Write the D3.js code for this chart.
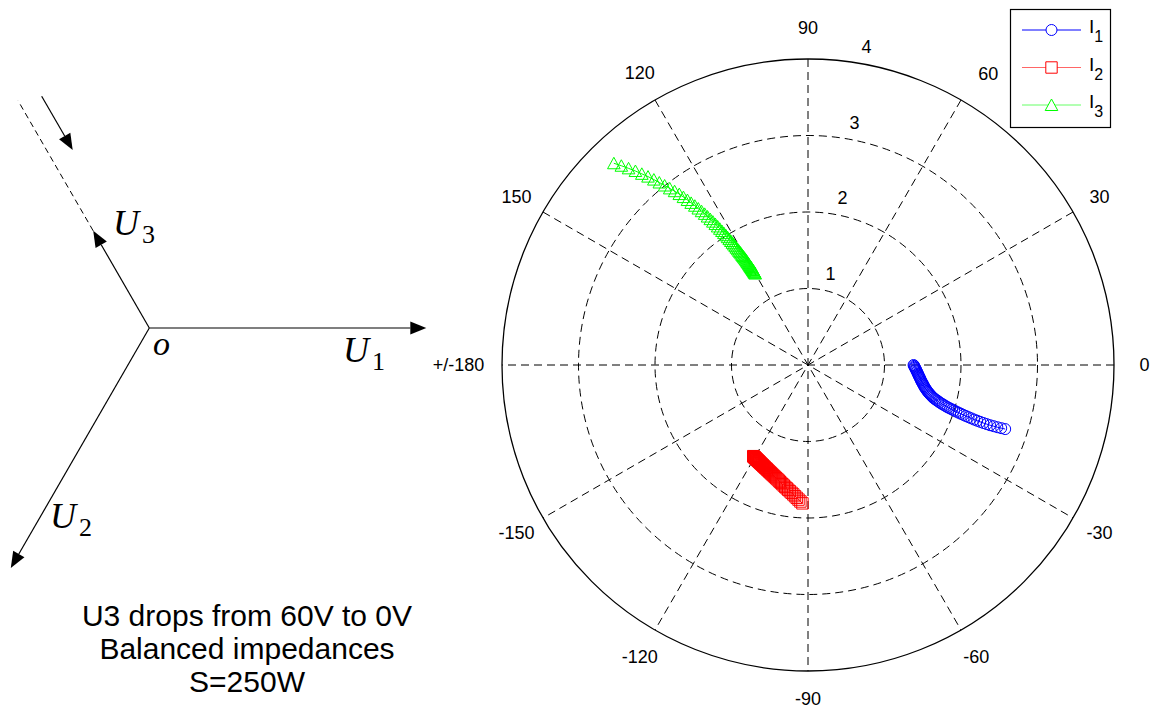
<!DOCTYPE html>
<html>
<head>
<meta charset="utf-8">
<script src="https://cdn.jsdelivr.net/npm/d3@7"></script>
<style>
  html, body { margin: 0; padding: 0; background: #fff; }
  svg { display: block; }
</style>
</head>
<body>
<svg id="fig" width="1153" height="710"></svg>
<script>
// Phase currents while U3 drops from 60 V to 0 V (magnitude, angle in degrees)
const magI1 = [1.380,1.387,1.393,1.399,1.406,1.413,1.419,1.426,1.434,1.441,
               1.448,1.456,1.464,1.473,1.481,1.490,1.500,1.510,1.520,1.531,
               1.542,1.554,1.566,1.579,1.593,1.607,1.622,1.638,1.654,1.671,
               1.688,1.707,1.726,1.747,1.768,1.790,1.813,1.836,1.861,1.887,
               1.914,1.942,1.971,2.001,2.032,2.065,2.098,2.133,2.169,2.207,
               2.246,2.286,2.327,2.370,2.414,2.460,2.507,2.555,2.605,2.657,
               2.710];
const angI1 = [0,-0.49,-0.97,-1.46,-1.94,-2.44,-2.94,-3.45,-3.98,-4.52,
               -5.07,-5.58,-6.08,-6.60,-7.14,-7.70,-8.29,-8.77,-9.26,-9.78,
               -10.33,-10.84,-11.29,-11.76,-12.24,-12.68,-13.07,-13.48,-13.87,-14.21,
               -14.57,-14.88,-15.12,-15.36,-15.61,-15.88,-16.10,-16.29,-16.49,-16.70,
               -16.87,-17.01,-17.15,-17.30,-17.43,-17.56,-17.69,-17.80,-17.91,-18.01,
               -18.09,-18.17,-18.23,-18.27,-18.30,-18.30,-18.30,-18.24,-18.19,-18.10,
               -18.00];

const magI2 = [1.390,1.391,1.392,1.393,1.394,1.395,1.396,1.397,1.398,1.400,
               1.401,1.402,1.404,1.405,1.407,1.408,1.410,1.412,1.414,1.416,
               1.418,1.420,1.423,1.426,1.428,1.432,1.435,1.438,1.442,1.446,
               1.450,1.455,1.459,1.464,1.470,1.475,1.482,1.488,1.495,1.503,
               1.510,1.519,1.527,1.537,1.547,1.558,1.569,1.581,1.593,1.607,
               1.621,1.636,1.651,1.668,1.685,1.703,1.723,1.743,1.764,1.787,
               1.810];
const angI2 = [-121.00,-120.83,-120.65,-120.48,-120.30,-120.13,-119.95,-119.78,-119.58,-119.39,
               -119.18,-118.97,-118.76,-118.54,-118.31,-118.05,-117.78,-117.51,-117.24,-116.96,
               -116.74,-116.42,-116.12,-115.79,-115.42,-115.04,-114.67,-114.30,-113.90,-113.48,
               -113.03,-112.55,-112.07,-111.60,-111.09,-110.55,-110.01,-109.44,-108.87,-108.27,
               -107.62,-106.98,-106.33,-105.65,-104.93,-104.22,-103.57,-102.87,-102.14,-101.37,
               -100.59,-99.80,-99.01,-98.17,-97.32,-96.48,-95.66,-94.86,-94.03,-93.18,
               -92.30];

const magI3 = [1.380,1.391,1.402,1.413,1.425,1.436,1.448,1.460,1.472,1.484,
               1.497,1.511,1.524,1.539,1.554,1.569,1.586,1.602,1.620,1.639,
               1.658,1.678,1.700,1.722,1.745,1.769,1.795,1.821,1.849,1.878,
               1.909,1.941,1.974,2.008,2.045,2.082,2.121,2.162,2.205,2.249,
               2.295,2.343,2.393,2.445,2.498,2.554,2.612,2.671,2.733,2.797,
               2.864,2.932,3.003,3.077,3.152,3.231,3.311,3.394,3.480,3.569,
               3.660];
const angI3 = [120.00,120.03,120.06,120.09,120.12,120.15,120.18,120.22,120.25,120.28,
               120.32,120.36,120.39,120.43,120.47,120.52,120.56,120.61,120.68,120.75,
               120.83,120.91,121.00,121.09,121.18,121.28,121.38,121.50,121.62,121.75,
               121.89,122.03,122.18,122.34,122.52,122.71,122.91,123.11,123.33,123.57,
               123.82,124.09,124.36,124.69,125.04,125.40,125.78,126.16,126.57,126.98,
               127.51,128.06,128.62,129.17,129.74,130.34,131.00,131.66,132.38,133.13,
               133.90];

// Polar axis ticks and labels
const radialTicks = [1, 2, 3, 4];
const spokeAngles = [0, 30, 60, 90, 120, 150, 180, -150, -120, -90, -60, -30];
const spokeLabels = ["0", "30", "60", "90", "120", "150", "+/-180", "-150", "-120", "-90", "-60", "-30"];

// Legend entries
const seriesBase = ["I", "I", "I"];
const seriesSub = ["1", "2", "3"];

// Voltage phasor diagram (relative magnitudes, angle in degrees)
const phasorSub = ["1", "2", "3"];
const phasorAngles = [0, 240, 120];
const phasorMags = [1.0, 1.0, 0.405];
const u3Rated = 0.947;

const noteLines = ["U3 drops from 60V to 0V", "Balanced impedances", "S=250W"];

// ---------------------------------------------------------------------------
const svg = d3.select("#fig");
const rad = d => d * Math.PI / 180;
const sans = "Liberation Sans, Arial, sans-serif";

// ---------- polar plot ----------
const cx = 808, cy = 365, R = 306;
const rScale = d3.scaleLinear().domain([0, d3.max(radialTicks)]).range([0, R]);
const polarXY = (m, deg) => {
  const p = d3.pointRadial(rad(90 - deg), rScale(m));
  return [cx + p[0], cy + p[1]];
};

const grid = svg.append("g");
const rMax = d3.max(radialTicks);

// dashed spokes (full diameters every 30 degrees)
spokeAngles.filter(a => a >= 0 && a < 180).forEach(a => {
  const p1 = polarXY(rMax, a), p2 = polarXY(rMax, a + 180);
  grid.append("line")
    .attr("x1", p1[0]).attr("y1", p1[1]).attr("x2", p2[0]).attr("y2", p2[1])
    .attr("stroke", "#000").attr("stroke-width", 1).attr("stroke-dasharray", "8,5");
});

// rings: inner ones dashed, outer one solid
radialTicks.forEach(t => {
  grid.append("circle")
    .attr("cx", cx).attr("cy", cy).attr("r", rScale(t))
    .attr("fill", "none").attr("stroke", "#000")
    .attr("stroke-width", t === rMax ? 1.3 : 1)
    .attr("stroke-dasharray", t === rMax ? null : "8,5");
});

// radial tick labels, just off each ring near the vertical spoke
radialTicks.forEach(t => {
  const p = polarXY(t + 0.05, 81);
  grid.append("text")
    .attr("x", p[0] + 5).attr("y", p[1] - 6)
    .attr("font-family", sans).attr("font-size", 18).attr("fill", "#000")
    .text(String(t));
});

// angle labels (a few nudged off their nominal spot)
const labelShift = { "60": [12, 1], "+/-180": [-13, 0], "-90": [0, -3] };
spokeAngles.forEach((a, i) => {
  const p = polarXY(rMax * 1.1, a);
  const sh = labelShift[spokeLabels[i]] || [0, 0];
  grid.append("text")
    .attr("x", p[0] + sh[0]).attr("y", p[1] + sh[1])
    .attr("text-anchor", "middle").attr("dominant-baseline", "central")
    .attr("font-family", sans).attr("font-size", 18).attr("fill", "#000")
    .text(spokeLabels[i]);
});

// marker shapes
const markerPath = {
  circle: (x, y) => `M${x + 5.5},${y}A5.5,5.5 0 1,1 ${x - 5.5},${y}A5.5,5.5 0 1,1 ${x + 5.5},${y}Z`,
  square: (x, y) => `M${x - 5.7},${y - 5.7}h11.4v11.4h-11.4Z`,
  triangle: (x, y) => `M${x},${y - 6}L${x + 6.3},${y + 5.5}L${x - 6.3},${y + 5.5}Z`
};

const series = [
  { mag: magI1, ang: angI1, color: "#0000ff", marker: "circle" },
  { mag: magI2, ang: angI2, color: "#ff0000", marker: "square" },
  { mag: magI3, ang: angI3, color: "#00ff00", marker: "triangle" }
];

const lineGen = d3.line();
const plot = svg.append("g");
series.forEach(s => {
  const pts = s.mag.map((m, i) => polarXY(m, s.ang[i]));
  const g = plot.append("g");
  g.append("path").attr("d", lineGen(pts))
    .attr("fill", "none").attr("stroke", s.color).attr("stroke-width", 1);
  g.selectAll("path.mk").data(pts).join("path").attr("class", "mk")
    .attr("d", d => markerPath[s.marker](d[0], d[1]))
    .attr("fill", "none").attr("stroke", s.color).attr("stroke-width", 1);
});

// legend
const legend = svg.append("g");
legend.append("rect")
  .attr("x", 1010.5).attr("y", 9.5).attr("width", 100).attr("height", 118)
  .attr("fill", "#fff").attr("stroke", "#000").attr("stroke-width", 1.2);
series.forEach((s, i) => {
  const y = 30 + i * 37.5;
  legend.append("line").attr("x1", 1022).attr("x2", 1081).attr("y1", y).attr("y2", y)
    .attr("stroke", s.color).attr("stroke-width", 1).attr("stroke-opacity", i === 0 ? 1 : 0.6);
  legend.append("path").attr("d", markerPath[s.marker](1051.5, y))
    .attr("fill", "#fff").attr("stroke", s.color).attr("stroke-width", 1);
  const t = legend.append("text").attr("x", 1089).attr("y", y + 3)
    .attr("font-family", sans).attr("font-size", 19).attr("fill", "#000");
  t.append("tspan").text(seriesBase[i]);
  t.append("tspan").attr("dy", 9).attr("font-size", 16).text(seriesSub[i]);
});

// ---------- voltage phasor diagram ----------
const O = [149.3, 328];
const vScale = d3.scaleLinear().domain([0, 1]).range([0, 277]);
const phXY = (m, deg) => {
  const p = d3.pointRadial(rad(90 - deg), vScale(m));
  return [O[0] + p[0], O[1] + p[1]];
};
const diagram = svg.append("g");
const headLen = 16, headHalf = 6.5;

function arrow(from, to) {
  const dx = to[0] - from[0], dy = to[1] - from[1];
  const L = Math.hypot(dx, dy), ux = dx / L, uy = dy / L;
  const bx = to[0] - ux * headLen, by = to[1] - uy * headLen;
  diagram.append("line").attr("x1", from[0]).attr("y1", from[1]).attr("x2", bx).attr("y2", by)
    .attr("stroke", "#000").attr("stroke-width", 1.2);
  diagram.append("path")
    .attr("d", `M${to[0]},${to[1]}L${bx - uy * headHalf},${by + ux * headHalf}L${bx + uy * headHalf},${by - ux * headHalf}Z`)
    .attr("fill", "#000");
}

phasorAngles.forEach((a, i) => arrow(O, phXY(phasorMags[i], a)));

// dashed rated position of U3
const u3Tip = phXY(phasorMags[2], phasorAngles[2]);
const u3Full = phXY(u3Rated, phasorAngles[2]);
diagram.append("line")
  .attr("x1", u3Tip[0]).attr("y1", u3Tip[1]).attr("x2", u3Full[0]).attr("y2", u3Full[1])
  .attr("stroke", "#000").attr("stroke-width", 1).attr("stroke-dasharray", "6,4");

// arrow indicating the drop of U3, drawn beside the dashed line
{
  const a = rad(phasorAngles[2]);
  const off = 22.7;
  const nx = Math.sin(a) * off, ny = Math.cos(a) * off;   // perpendicular offset (screen)
  const pA = phXY(0.919, phasorAngles[2]), pB = phXY(0.695, phasorAngles[2]);
  arrow([pA[0] + nx, pA[1] + ny], [pB[0] + nx, pB[1] + ny]);
}

// phasor labels
const serif = "Liberation Serif, Times New Roman, serif";
const phLabelPos = [[343, 362], [50, 528], [113, 235]];
phasorSub.forEach((s, i) => {
  const t = diagram.append("text").attr("x", phLabelPos[i][0]).attr("y", phLabelPos[i][1])
    .attr("font-family", serif).attr("fill", "#000");
  t.append("tspan").attr("font-size", 36).attr("font-style", "italic").text("U");
  t.append("tspan").attr("font-size", 26).attr("dx", 3).attr("dy", 8).text(s);
});
diagram.append("text").attr("x", 153).attr("y", 355)
  .attr("font-family", serif).attr("font-style", "italic").attr("font-size", 34)
  .attr("fill", "#000").text("o");

// note under the diagram
noteLines.forEach((s, i) => {
  svg.append("text").attr("x", 247).attr("y", 626 + i * 33)
    .attr("text-anchor", "middle")
    .attr("font-family", sans).attr("font-size", 30)
    .attr("fill", "#000").text(s);
});
</script>
</body>
</html>
